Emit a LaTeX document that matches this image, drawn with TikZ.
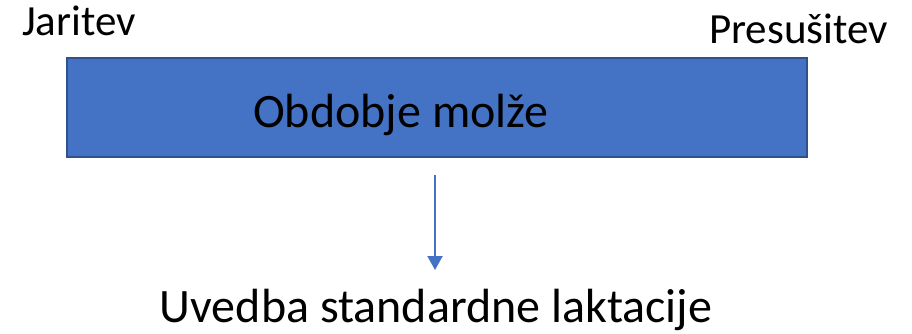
\documentclass[tikz,border=0pt]{standalone}
\usepackage{fontspec}
\setmainfont{Carlito}
\usetikzlibrary{arrows.meta}
\definecolor{officeblue}{HTML}{4472C4}
\definecolor{officeedge}{HTML}{2F528F}
\begin{document}
\begin{tikzpicture}[x=1pt,y=-1pt,
  bigtxt/.style={inner sep=0pt,font=\fontsize{48}{57}\selectfont},
  smalltxt/.style={inner sep=0pt,font=\fontsize{43}{51}\selectfont},
  conn/.style={draw=officeblue,line width=2pt,-{Triangle[width=15pt,length=14pt]}}]
\useasboundingbox (0,0) rectangle (912,333);
\fill[white] (0,0) rectangle (912,333);
\node[draw=officeedge,fill=officeblue,line width=1.5pt,minimum width=740pt,minimum height=99pt,inner sep=0pt,anchor=north west] (box) at (66,57) {};
\node[bigtxt,anchor=base west] (obd) at (253,127) {Obdobje molže};
\node[smalltxt,anchor=base west] (jar) at (22,35) {Jaritev};
\node[smalltxt,anchor=base east] (pre) at (888,43) {Presušitev};
\node[bigtxt,anchor=base] (uv) at (436,322) {Uvedba standardne laktacije};
\coordinate (a1) at (435,175);
\coordinate (a2) at (435,270);
\draw[conn] (a1) -- (a2);
\end{tikzpicture}
\end{document}
